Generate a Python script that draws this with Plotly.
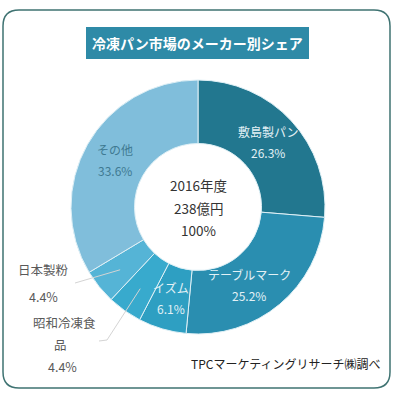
import math
import plotly.graph_objects as go

# ---- data ----
makers = ["敷島製パン", "テーブルマーク", "イズム", "昭和冷凍食品", "日本製粉", "その他"]
shares = [26.3, 25.2, 6.1, 4.4, 4.4, 33.6]
colors = ["#22778f", "#2a8eb0", "#2e9fc2", "#38aacd", "#55b4d6", "#80bedb"]
title_text = "冷凍パン市場のメーカー別シェア"
center_lines = ["2016年度", "238億円", "100%"]
source_text = "TPCマーケティングリサーチ㈱調べ"

W, H = 396, 399
FONT = "Noto Sans CJK JP"
cx, cy, R = 198, 207, 127
HOLE = 0.5

fig = go.Figure()
fig.add_trace(go.Pie(
    labels=makers, values=shares, sort=False, direction="clockwise", rotation=0,
    hole=HOLE, marker=dict(colors=colors, line=dict(color="#dff0f6", width=1)),
    textinfo="none",
    domain=dict(x=[(cx - R) / W, (cx + R) / W], y=[(H - cy - R) / H, (H - cy + R) / H]),
    showlegend=False, hoverinfo="label+percent",
))

shapes = []
annotations = []
# rounded frame
x0, y0, x1, y1, r = 3, 10, 390, 388, 16
path = (f"M {x0+r},{y0} L {x1-r},{y0} Q {x1},{y0} {x1},{y0+r} L {x1},{y1-r} "
        f"Q {x1},{y1} {x1-r},{y1} L {x0+r},{y1} Q {x0},{y1} {x0},{y1-r} "
        f"L {x0},{y0+r} Q {x0},{y0} {x0+r},{y0} Z")
shapes.append(dict(type="path", path=path, xref="x", yref="y",
                   line=dict(color="#3f7372", width=1.5), layer="below"))
# title box
shapes.append(dict(type="rect", xref="x", yref="y", x0=86, x1=309, y0=27, y1=59,
                   fillcolor="#2e8aa7", line=dict(width=0), layer="below"))
annotations.append(dict(x=197.5, y=43, xref="x", yref="y", text=f"<b>{title_text}</b>",
                        showarrow=False, font=dict(family=FONT, size=14, color="white")))

# center text
for i, t in enumerate(center_lines):
    annotations.append(dict(x=cx, y=185 + i * 22.5, xref="x", yref="y", text=t, showarrow=False,
                            font=dict(family=FONT, size=13.5, color="#333333")))

# slice mid angles
cum = 0
mids = []
for s in shares:
    mids.append((cum + s / 2) / sum(shares) * 2 * math.pi)
    cum += s

def ring_pt(angle, rad):
    return cx + rad * math.sin(angle), cy - rad * math.cos(angle)

# inside labels at the mid radius of each large slice
rmid = R * (1 + HOLE) / 2
inside_cfg = {0: "#e2f1f6", 1: "#e2f1f6", 2: "#e2f1f6", 5: "#3f7a92"}
for i, col in inside_cfg.items():
    px, py = ring_pt(mids[i], rmid)
    if i == 1:
        px, py = px - 10, py + 5
    for k, t in enumerate([makers[i], f"{shares[i]}%"]):
        annotations.append(dict(x=px, y=py - 10.5 + 21 * k, xref="x", yref="y", text=t,
                                showarrow=False,
                                font=dict(family=FONT, size=12, color=col)))

lc = "#d4d4d4"
# 日本製粉 leader
px, py = ring_pt(mids[4], 100)
shapes.append(dict(type="line", xref="x", yref="y", x0=px, y0=py, x1=75, y1=283,
                   line=dict(color=lc, width=1)))
# 昭和冷凍食品 leader
px, py = ring_pt(mids[3], 100)
shapes.append(dict(type="path", xref="x", yref="y", path=f"M {px},{py} L 107,340 L 99,341",
                   line=dict(color=lc, width=1)))

gray = "#595959"
def lab(x, y, t):
    annotations.append(dict(x=x, y=y, xref="x", yref="y", text=t, showarrow=False,
                            font=dict(family=FONT, size=12.5, color=gray)))

lab(43, 269, makers[4])
lab(43, 296, f"{shares[4]}%")
lab(64, 322, makers[3][:5])
lab(60, 344, makers[3][5:])
lab(62, 366, f"{shares[3]}%")

annotations.append(dict(x=382, y=363, xref="x", yref="y", xanchor="right", text=source_text,
                        showarrow=False, font=dict(family=FONT, size=12, color="#222222")))

fig.update_layout(
    width=W, height=H, margin=dict(l=0, r=0, t=0, b=0),
    paper_bgcolor="white", plot_bgcolor="rgba(0,0,0,0)",
    xaxis=dict(range=[0, W], visible=False, domain=[0, 1], fixedrange=True),
    yaxis=dict(range=[H, 0], visible=False, domain=[0, 1], fixedrange=True),
    shapes=shapes, annotations=annotations,
)
fig.write_html("out.html", config={"displayModeBar": False},
               post_script="document.body.style.margin='0';document.body.style.overflow='hidden';")
